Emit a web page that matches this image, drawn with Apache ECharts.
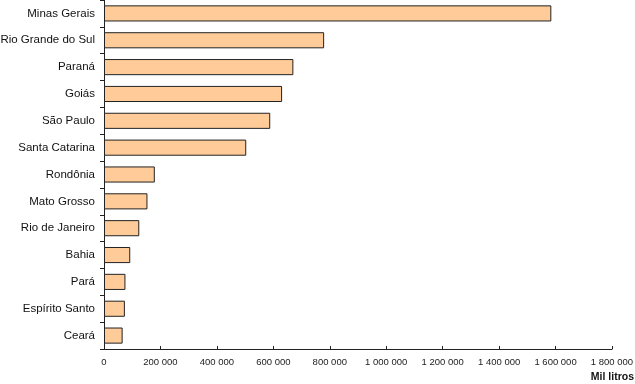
<!DOCTYPE html>
<html><head><meta charset="utf-8">
<script src="https://cdn.jsdelivr.net/npm/echarts@6/dist/echarts.min.js"></script>
<style>html,body{margin:0;padding:0;background:#fff}#c{width:635px;height:384px}</style>
</head><body><div id="c"></div>
<script>
const categories = ["Minas Gerais","Rio Grande do Sul","Paraná","Goiás","São Paulo","Santa Catarina","Rondônia","Mato Grosso","Rio de Janeiro","Bahia","Pará","Espírito Santo","Ceará"];
const values = [1585000,780000,671000,631000,589000,504000,180000,154000,125000,93000,76000,74000,66000];
const xTicks = [0,200000,400000,600000,800000,1000000,1200000,1400000,1600000,1800000];

const chart = echarts.init(document.getElementById('c'));
chart.setOption({
  animation:false,
  grid:{left:104,right:23,top:0,bottom:35,containLabel:false,outerBoundsMode:'none'},
  xAxis:{
    type:'value',min:xTicks[0],max:xTicks[xTicks.length-1],interval:xTicks[1]-xTicks[0],
    axisLine:{show:true,lineStyle:{color:'#222',width:1}},
    axisTick:{show:true,inside:true,length:3,lineStyle:{color:'#222'}},
    splitLine:{show:false},
    axisLabel:{color:'#222',fontSize:9.5,fontFamily:'Liberation Sans, Arial',margin:8,
      formatter:v=>String(v).replace(/\B(?=(\d{3})+(?!\d))/g,' ')}
  },
  yAxis:{
    type:'category',data:categories,inverse:true,
    axisLine:{show:true,lineStyle:{color:'#222',width:1}},
    axisTick:{show:true,length:4,lineStyle:{color:'#222'}},
    axisLabel:{color:'#111',fontSize:11.5,fontFamily:'Liberation Sans, Arial',margin:9}
  },
  graphic:[{type:'text',right:1,top:372,style:{text:'Mil litros',fill:'#111',font:'bold 10.5px "Liberation Sans", Arial'}}],
  series:[{type:'bar',data:values,barCategoryGap:'40%',
    itemStyle:{color:'#FFCC99',borderColor:'#222',borderWidth:1}}]
});
</script></body></html>
